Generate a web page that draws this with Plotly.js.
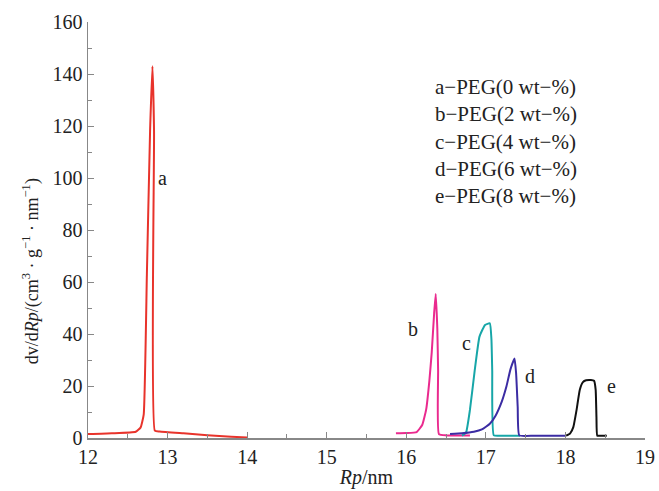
<!DOCTYPE html>
<html>
<head>
<meta charset="utf-8">
<script src="https://cdn.plot.ly/plotly-3.0.1.min.js"></script>
<style>html,body{margin:0;padding:0;background:#fff;}#chart{width:659px;height:491px;}</style>
</head>
<body>
<div id="chart"></div>
<script>
// Series a: PEG 0 wt-%
const aX = [12.0, 12.3, 12.6, 12.66, 12.70, 12.74, 12.78, 12.81, 12.83, 12.84, 12.9, 13.2, 13.5, 13.8, 14.0];
const aY = [1.5, 1.8, 2.4, 4, 9, 63, 118, 143, 118, 2.8, 2.5, 1.8, 1.1, 0.5, 0.2];
// Series b: PEG 2 wt-%
const bX = [15.87, 16.0, 16.13, 16.2, 16.25, 16.29, 16.32, 16.35, 16.37, 16.39, 16.40, 16.41, 16.5, 16.65, 16.8];
const bY = [1.8, 1.9, 2.3, 5, 11, 22, 33, 48, 55.4, 42, 26, 1.5, 1.0, 1.0, 1.0];
// Series c: PEG 4 wt-%
const cX = [16.70, 16.75, 16.80, 16.86, 16.92, 16.99, 17.05, 17.07, 17.08, 17.10, 17.2, 17.3, 17.43];
const cY = [0.9, 2, 10.8, 26, 39, 43.5, 44.1, 38, 26, 1.0, 0.9, 0.9, 0.9];
// Series d: PEG 6 wt-%
const dX = [16.55, 16.7, 16.85, 16.95, 17.05, 17.12, 17.2, 17.26, 17.31, 17.36, 17.38, 17.40, 17.42, 17.6, 17.8, 18.01];
const dY = [1.5, 1.8, 2.4, 3.3, 5.5, 8.5, 14, 20, 26.5, 30.6, 25, 12, 1.0, 0.9, 0.9, 0.9];
// Series e: PEG 8 wt-%
const eX = [18.01, 18.06, 18.10, 18.14, 18.18, 18.22, 18.26, 18.32, 18.36, 18.38, 18.39, 18.40, 18.45, 18.52];
const eY = [0.9, 1.8, 4.3, 10.8, 18.5, 21.5, 22.2, 22.3, 22, 18.5, 8, 0.9, 0.9, 0.9];

const seriesNames = ['a', 'b', 'c', 'd', 'e'];
const seriesColors = ['#e8332b', '#ea2a8e', '#17a6a8', '#3b2ca3', '#111111'];
const legendLines = ['a\u2212PEG(0 wt\u2212%)', 'b\u2212PEG(2 wt\u2212%)', 'c\u2212PEG(4 wt\u2212%)', 'd\u2212PEG(6 wt\u2212%)', 'e\u2212PEG(8 wt\u2212%)'];
// curve label anchor positions (data coordinates)
const labelX = [12.94, 16.08, 16.76, 17.56, 18.58];
const labelY = [100, 42, 36.5, 24, 20];
const xTitle = '<i>Rp</i>/nm';
const yTitle = 'dv/d<i>Rp</i>/(cm<sup>3</sup> · g<sup>\u22121</sup> · nm<sup>\u22121</sup>)';

const xs = [aX, bX, cX, dX, eX];
const ys = [aY, bY, cY, dY, eY];

const FONT = "'Liberation Serif', 'Times New Roman', serif";
const TXT = '#222';

const traces = xs.map((x, i) => ({
  x: x, y: ys[i], mode: 'lines', type: 'scatter', name: seriesNames[i],
  line: {color: seriesColors[i], width: 2, shape: 'spline', smoothing: 0.4},
  hoverinfo: 'skip'
}));

const annotations = seriesNames.map((n, i) => ({
  x: labelX[i], y: labelY[i], xref: 'x', yref: 'y', text: n, showarrow: false,
  font: {family: FONT, size: 20, color: TXT}
}));
annotations.push({
  xref: 'paper', yref: 'paper', x: 0.619, y: 0.877, xanchor: 'left', yanchor: 'top',
  text: legendLines.join('<br>'), showarrow: false, align: 'left',
  font: {family: FONT, size: 21, color: TXT}
});
annotations.push({
  xref: 'paper', yref: 'paper', x: -0.103, y: 0.40, xanchor: 'center', yanchor: 'middle',
  text: yTitle, textangle: -90, showarrow: false,
  font: {family: FONT, size: 18, color: TXT}
});

const layout = {
  width: 659, height: 491,
  margin: {l: 88, r: 14, t: 22, b: 53},
  paper_bgcolor: '#fff', plot_bgcolor: '#fff',
  showlegend: false,
  font: {family: FONT, size: 20, color: TXT},
  xaxis: {
    range: [12, 19], dtick: 1, tick0: 12, showgrid: false, zeroline: false,
    showline: true, linecolor: '#888', linewidth: 1.5,
    ticks: 'inside', ticklen: 6, tickcolor: '#888',
    minor: {dtick: 0.5, ticks: 'inside', ticklen: 4, tickcolor: '#888'},
    tickfont: {family: FONT, size: 20, color: TXT},
    title: {text: xTitle, font: {family: FONT, size: 20, color: TXT}, standoff: 3}
  },
  yaxis: {
    range: [0, 160], dtick: 20, showgrid: false, zeroline: false,
    showline: true, linecolor: '#888', linewidth: 1.5,
    ticks: 'inside', ticklen: 6, tickcolor: '#888',
    minor: {dtick: 10, ticks: 'inside', ticklen: 4, tickcolor: '#888'},
    tickfont: {family: FONT, size: 20, color: TXT}
  },
  annotations: annotations
};

Plotly.newPlot('chart', traces, layout, {staticPlot: true, displayModeBar: false});
</script>
</body>
</html>
